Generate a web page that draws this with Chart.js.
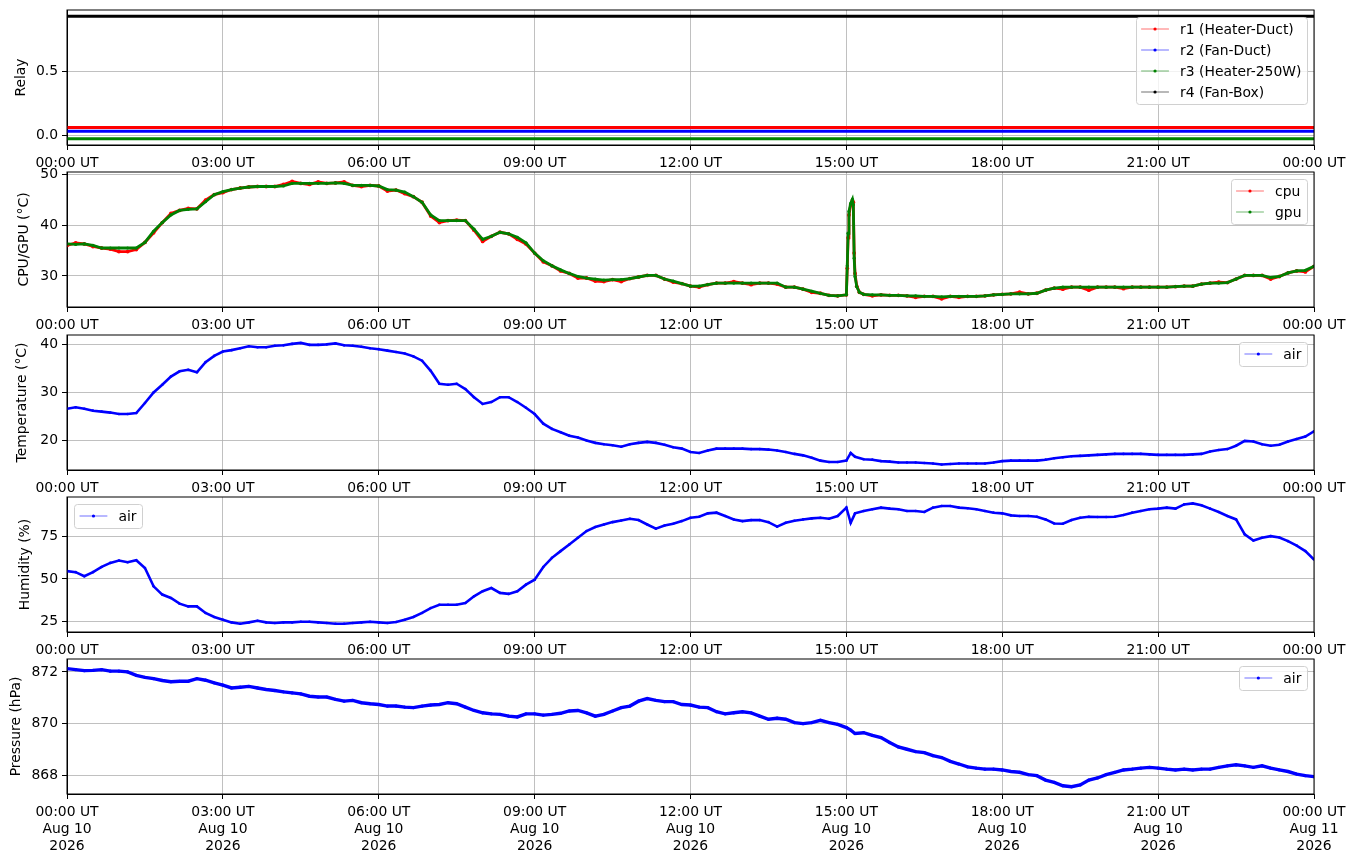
<!DOCTYPE html>
<html><head><meta charset="utf-8">
<script src="https://cdn.jsdelivr.net/npm/chart.js@4.4.1/dist/chart.umd.min.js"></script>
<style>
html,body{margin:0;padding:0;background:#fff;width:1355px;height:861px;overflow:hidden;position:relative}
.p{position:absolute;left:0;width:1355px}
</style></head><body>
<div class="p" id="d1"><canvas id="k1"></canvas></div>
<div class="p" id="d2"><canvas id="k2"></canvas></div>
<div class="p" id="d3"><canvas id="k3"></canvas></div>
<div class="p" id="d4"><canvas id="k4"></canvas></div>
<div class="p" id="d5"><canvas id="k5"></canvas></div>
<script>
// ---------- DATA ----------
const xTickMinutes = [0,180,360,540,720,900,1080,1260,1440];
const xTickLabels = ['00:00 UT','03:00 UT','06:00 UT','09:00 UT','12:00 UT','15:00 UT','18:00 UT','21:00 UT','00:00 UT'];
const xDateLabels = ['Aug 10','Aug 10','Aug 10','Aug 10','Aug 10','Aug 10','Aug 10','Aug 10','Aug 11'];
const xYearLabels = ['2026','2026','2026','2026','2026','2026','2026','2026','2026'];

const relayTimes = [0,60,120,180,240,300,360,420,480,540,600,660,720,780,840,900,960,1020,1080,1140,1200,1260,1320,1380,1440];
const relayR1 = [0.06,0.06,0.06,0.06,0.06,0.06,0.06,0.06,0.06,0.06,0.06,0.06,0.06,0.06,0.06,0.06,0.06,0.06,0.06,0.06,0.06,0.06,0.06,0.06,0.06];
const relayR2 = [0.03,0.03,0.03,0.03,0.03,0.03,0.03,0.03,0.03,0.03,0.03,0.03,0.03,0.03,0.03,0.03,0.03,0.03,0.03,0.03,0.03,0.03,0.03,0.03,0.03];
const relayR3 = [-0.03,-0.03,-0.03,-0.03,-0.03,-0.03,-0.03,-0.03,-0.03,-0.03,-0.03,-0.03,-0.03,-0.03,-0.03,-0.03,-0.03,-0.03,-0.03,-0.03,-0.03,-0.03,-0.03,-0.03,-0.03];
const relayR4 = [0.94,0.94,0.94,0.94,0.94,0.94,0.94,0.94,0.94,0.94,0.94,0.94,0.94,0.94,0.94,0.94,0.94,0.94,0.94,0.94,0.94,0.94,0.94,0.94,0.94];

const cpuTimes = [
0,10,20,30,40,50, 60,70,80,90,100,110, 120,130,140,150,160,170, 180,190,200,210,220,230,
240,250,260,270,280,290, 300,310,320,330,340,350, 360,370,380,390,400,410, 420,430,440,450,460,470,
480,490,500,510,520,530, 540,550,560,570,580,590, 600,610,620,630,640,650, 660,670,680,690,700,710,
720,730,740,750,760,770, 780,790,800,810,820,830, 840,850,860,870,880,890,
900,901,902,903,905,907,908,909,910,912,915,920,930,940,950,
960,970,980,990,1000,1010, 1020,1030,1040,1050,1060,1070, 1080,1090,1100,1110,1120,1130,
1140,1150,1160,1170,1180,1190, 1200,1210,1220,1230,1240,1250, 1260,1270,1280,1290,1300,1310,
1320,1330,1340,1350,1360,1370, 1380,1390,1400,1410,1420,1430, 1440];
const cpuTemp = [
36.0,36.5,36.3,35.8,35.5,35.3, 34.8,34.8,35.2,36.6,38.5,40.5, 42.3,42.9,43.3,43.2,44.9,46.0, 46.4,47.0,47.3,47.5,47.6,47.6,
47.6,48.0,48.6,48.2,48.0,48.5, 48.2,48.3,48.5,47.8,47.6,47.8, 47.7,46.7,46.9,46.2,45.6,44.5, 41.8,40.5,40.9,41.0,40.9,39.0,
36.8,37.8,38.6,38.3,37.2,36.3, 34.5,32.8,32.0,31.0,30.5,29.6, 29.6,29.0,28.9,29.3,28.9,29.5, 29.8,30.1,30.1,29.4,28.8,28.5,
28.0,27.8,28.3,28.6,28.6,28.9, 28.6,28.3,28.6,28.6,28.4,27.8, 27.8,27.4,26.8,26.6,26.2,26.1,
26.3,31.5,37.5,42.0,44.0,44.8,44.5,34.5,30.5,28.0,26.8,26.4,26.1,26.3,26.2,
26.2,26.1,25.8,26.0,26.0,25.5, 26.0,25.8,26.0,26.0,26.1,26.3, 26.4,26.5,26.8,26.5,26.6,27.2,
27.6,27.4,27.8,27.8,27.2,27.8, 27.8,27.8,27.5,27.8,27.8,27.8, 27.8,27.8,27.9,28.0,28.0,28.4,
28.6,28.8,28.7,29.4,30.1,30.1, 30.1,29.4,29.9,30.6,31.0,30.8, 31.9];
const gpuTemp = [
36.3,36.2,36.3,36.0,35.5,35.5, 35.5,35.5,35.5,36.6,38.8,40.5, 42.0,42.9,43.1,43.2,44.6,46.0, 46.6,47.0,47.3,47.5,47.6,47.6,
47.6,47.7,48.2,48.2,48.2,48.2, 48.2,48.3,48.2,47.8,47.8,47.8, 47.7,47.0,46.9,46.5,45.6,44.5, 42.0,40.9,40.9,40.9,40.9,39.2,
37.2,37.8,38.6,38.3,37.6,36.5, 34.5,33.0,32.0,31.2,30.5,29.9, 29.6,29.4,29.2,29.3,29.3,29.5, 29.8,30.1,30.1,29.4,29.0,28.5,
28.0,28.0,28.3,28.6,28.6,28.6, 28.6,28.6,28.6,28.6,28.6,27.8, 27.8,27.4,27.0,26.6,26.2,26.1,
26.3,32.0,38.4,42.7,44.3,45.1,44.0,33.5,29.9,27.9,26.8,26.4,26.3,26.3,26.2,
26.2,26.1,26.1,26.0,26.0,25.9, 26.0,26.0,26.0,26.0,26.1,26.3, 26.4,26.5,26.5,26.5,26.6,27.2,
27.6,27.8,27.8,27.8,27.8,27.8, 27.8,27.8,27.8,27.8,27.8,27.8, 27.8,27.8,27.9,28.0,28.0,28.4,
28.6,28.6,28.7,29.4,30.1,30.1, 30.1,29.7,29.9,30.6,31.0,31.1, 31.9];

const airTimes = [
0,10,20,30,40,50, 60,70,80,90,100,110, 120,130,140,150,160,170, 180,190,200,210,220,230,
240,250,260,270,280,290, 300,310,320,330,340,350, 360,370,380,390,400,410, 420,430,440,450,460,470,
480,490,500,510,520,530, 540,550,560,570,580,590, 600,610,620,630,640,650, 660,670,680,690,700,710,
720,730,740,750,760,770, 780,790,800,810,820,830, 840,850,860,870,880,890,
900,905,910,920,930,940,950,
960,970,980,990,1000,1010, 1020,1030,1040,1050,1060,1070, 1080,1090,1100,1110,1120,1130,
1140,1150,1160,1170,1180,1190, 1200,1210,1220,1230,1240,1250, 1260,1270,1280,1290,1300,1310,
1320,1330,1340,1350,1360,1370, 1380,1390,1400,1410,1420,1430, 1440];
const airTemp = [
26.6,26.9,26.6,26.2,26.0,25.8, 25.5,25.5,25.7,27.8,30.0,31.6, 33.3,34.4,34.7,34.2,36.3,37.6, 38.5,38.8,39.2,39.6,39.4,39.4,
39.7,39.8,40.1,40.3,39.9,39.9, 40.0,40.2,39.8,39.7,39.5,39.2, 39.0,38.7,38.4,38.1,37.5,36.6, 34.5,31.8,31.6,31.8,30.7,29.0,
27.6,28.0,29.0,29.0,28.0,26.8, 25.5,23.5,22.4,21.7,21.0,20.6, 20.0,19.5,19.2,19.0,18.7,19.2, 19.5,19.7,19.5,19.1,18.6,18.3,
17.6,17.4,17.9,18.3,18.3,18.3, 18.3,18.2,18.2,18.1,17.9,17.6, 17.2,16.9,16.4,15.8,15.5,15.5,
15.8,17.4,16.6,16.1,16.0,15.7,15.6,
15.4,15.4,15.4,15.3,15.2,15.0, 15.1,15.2,15.2,15.2,15.2,15.4, 15.7,15.8,15.8,15.8,15.8,16.0,
16.3,16.5,16.7,16.8,16.9,17.0, 17.1,17.2,17.2,17.2,17.2,17.1, 17.0,17.0,17.0,17.0,17.1,17.2,
17.7,18.0,18.2,18.9,19.9,19.8, 19.2,18.9,19.1,19.8,20.3,20.8, 21.9];
const airHumidity = [
54.6,54.0,51.6,54.0,57.1,59.5, 60.9,59.9,61.1,56.5,45.6,40.7, 38.7,35.3,33.7,33.7,29.8,27.4, 25.8,24.2,23.4,24.2,25.2,24.2,
23.8,24.2,24.2,24.6,24.6,24.2, 23.8,23.4,23.4,23.8,24.2,24.6, 24.2,23.8,24.4,25.8,27.4,29.8, 32.7,34.7,34.7,34.7,35.7,39.7,
42.7,44.6,41.7,41.1,42.7,46.6, 49.5,57.1,62.5,66.5,70.4,74.4, 78.4,80.8,82.3,83.7,84.7,85.7, 84.9,82.3,79.8,81.7,82.7,84.3,
86.3,86.9,88.9,89.3,87.3,85.3, 84.3,84.9,84.9,83.7,81.0,83.3, 84.5,85.3,85.9,86.3,85.7,87.3,
92.3,83.3,88.9,90.3,91.3,92.3,91.7,
91.3,90.3,90.3,89.7,92.3,93.3, 93.3,92.3,91.9,91.3,90.3,89.3, 88.9,87.7,87.3,87.3,86.9,85.3,
82.9,82.7,84.9,86.3,86.9,86.7, 86.7,86.9,87.9,89.3,90.3,91.3, 91.7,92.3,91.7,94.2,94.8,93.7,
91.7,89.7,87.3,85.3,76.4,72.8, 74.4,75.4,74.6,72.4,69.8,66.5, 61.5];
const airPressure = [
872.13,872.09,872.05,872.06,872.09,872.03, 872.03,872.00,871.87,871.79,871.74,871.67, 871.62,871.64,871.64,871.74,871.68,871.58,
871.49,871.38,871.41,871.44,871.38,871.32, 871.28,871.23,871.19,871.15,871.06,871.03, 871.03,870.94,870.87,870.90,870.81,870.77,
870.74,870.68,870.68,870.64,870.62,870.68, 870.72,870.74,870.81,870.77,870.64,870.51, 870.42,870.38,870.36,870.29,870.26,870.38,
870.38,870.33,870.36,870.40,870.49,870.51, 870.42,870.29,870.36,870.49,870.62,870.68, 870.87,870.97,870.90,870.85,870.85,870.74,
870.72,870.64,870.62,870.46,870.38,870.42, 870.46,870.42,870.29,870.17,870.21,870.17, 870.04,870.00,870.04,870.13,870.04,869.97,
869.85,869.75,869.62,869.65,869.55,869.46,869.27,
869.10,869.01,868.92,868.88,868.76,868.69, 868.54,868.44,868.33,868.28,868.24,868.24, 868.21,868.15,868.12,868.03,867.99,867.82,
867.73,867.60,867.56,867.63,867.82,867.90, 868.03,868.12,868.21,868.24,868.28,868.31, 868.28,868.24,868.21,868.24,868.21,868.24,
868.24,868.31,868.37,868.41,868.37,868.31, 868.37,868.28,868.21,868.15,868.05,867.99, 867.95];

// ---------- RENDERING ----------
const FS = 13.9;
Chart.defaults.font.family = '"DejaVu Sans", sans-serif';
Chart.defaults.font.size = FS;
Chart.defaults.color = '#000';

const framePlugin = {
  id: 'frame',
  afterDatasetsDraw(chart) {
    const {ctx, chartArea: a} = chart;
    ctx.save();
    ctx.strokeStyle = '#000'; ctx.lineWidth = 1;
    ctx.strokeRect(a.left, a.top, a.right - a.left, a.bottom - a.top);
    ctx.restore();
  }
};
const legendPlugin = {
  id: 'mplLegend',
  afterDraw(chart, args, opts) {
    const ctx = chart.ctx, a = chart.chartArea;
    const ds = chart.data.datasets;
    ctx.save();
    ctx.font = FS + 'px "DejaVu Sans"';
    let tw = 0;
    ds.forEach(d => { tw = Math.max(tw, ctx.measureText(d.label).width); });
    const pad = 0.4 * FS, hl = 2 * FS, htp = 0.8 * FS;
    const w = pad + hl + htp + tw + pad, h = 24 + (ds.length - 1) * 21;
    const x = opts.corner === 'ul' ? a.left + 7 : a.right - 7 - w;
    const y = a.top + 7;
    ctx.beginPath();
    ctx.roundRect(Math.round(x) + 0.5, Math.round(y) + 0.5, Math.round(w), Math.round(h), 3);
    ctx.fillStyle = 'rgba(255,255,255,0.8)'; ctx.fill();
    ctx.strokeStyle = '#d0d0d0'; ctx.lineWidth = 1; ctx.stroke();
    ds.forEach((d, i) => {
      const cy = y + 12 + i * 21, x0 = x + pad;
      ctx.strokeStyle = d.borderColor; ctx.globalAlpha = 0.8; ctx.lineWidth = 0.7;
      ctx.beginPath(); ctx.moveTo(x0, cy); ctx.lineTo(x0 + hl, cy); ctx.stroke();
      ctx.globalAlpha = 1;
      ctx.fillStyle = d.borderColor;
      ctx.beginPath(); ctx.arc(x0 + hl / 2, cy, 1.6, 0, Math.PI * 2); ctx.fill();
      ctx.fillStyle = '#000'; ctx.textBaseline = 'middle'; ctx.textAlign = 'left';
      ctx.fillText(d.label, x0 + hl + htp, cy + 1);
    });
    ctx.restore();
  }
};

function series(label, color, times, vals, lw, pr, order) {
  return {
    label, borderColor: color, backgroundColor: color, pointBackgroundColor: color,
    data: times.map((t, i) => ({x: t, y: vals[i]})),
    borderWidth: lw, pointRadius: pr, pointHoverRadius: 0, pointBorderWidth: 0,
    tension: 0, fill: false, order: order || 0
  };
}

const PAD_TOP = 14, PLOT_H = 135;
function makePanel(n, plotTop, xH, datasets, yMin, yMax, yTicks, yFmt, yTitle, titlePad, corner, multi) {
  const div = document.getElementById('d' + n);
  div.style.top = (plotTop - PAD_TOP) + 'px';
  div.style.height = (PAD_TOP + PLOT_H + xH) + 'px';
  new Chart(document.getElementById('k' + n), {
    type: 'line',
    data: {datasets},
    plugins: [framePlugin, legendPlugin],
    options: {
      responsive: true, maintainAspectRatio: false, animation: false, events: [],
      layout: {padding: {top: PAD_TOP, right: 41, left: 0, bottom: 0}},
      plugins: {legend: {display: false}, tooltip: {enabled: false}, mplLegend: {corner}},
      scales: {
        x: {
          type: 'linear', min: 0, max: 1440,
          afterBuildTicks: s => { s.ticks = xTickMinutes.map(v => ({value: v})); },
          afterFit: s => { s.height = xH; },
          ticks: {
            autoSkip: false, maxRotation: 0, padding: 5,
            font: {size: FS, lineHeight: 1.22},
            callback: v => {
              const i = xTickMinutes.indexOf(v);
              return multi ? [xTickLabels[i], xDateLabels[i], xYearLabels[i]] : xTickLabels[i];
            }
          },
          grid: {color: '#b0b0b0', lineWidth: 0.8, tickLength: 5, tickColor: '#000', tickWidth: 1},
          border: {color: '#000', width: 1}
        },
        y: {
          type: 'linear', min: yMin, max: yMax,
          afterBuildTicks: s => { s.ticks = yTicks.map(v => ({value: v})); },
          afterFit: s => { s.width = 67; },
          ticks: {padding: 4, callback: v => yFmt(v)},
          title: {display: true, text: yTitle, font: {size: FS, lineHeight: 1.2}, padding: {top: titlePad, bottom: 0}},
          grid: {color: '#b0b0b0', lineWidth: 0.8, tickLength: 5, tickColor: '#000', tickWidth: 1},
          border: {color: '#000', width: 1}
        }
      }
    }
  });
}

const f1 = v => v.toFixed(1), f0 = v => String(v);

makePanel(1, 10, 29, [
  series('r1 (Heater-Duct)', '#ff0000', relayTimes, relayR1, 3, 0),
  series('r2 (Fan-Duct)', '#0000ff', relayTimes, relayR2, 3, 0),
  series('r3 (Heater-250W)', '#008000', relayTimes, relayR3, 3, 0),
  series('r4 (Fan-Box)', '#000000', relayTimes, relayR4, 3, 0)
], -0.0785, 0.9885, [0, 0.5], f1, 'Relay', 13, 'ur', false);

makePanel(2, 172, 29, [
  series('cpu', '#ff0000', cpuTimes, cpuTemp, 2.8, 1.9, 1),
  series('gpu', '#008000', cpuTimes, gpuTemp, 2.8, 1.6, 0)
], 23.9, 50.45, [30, 40, 50], f0, 'CPU/GPU (°C)', 16, 'ur', false);

makePanel(3, 335, 29, [
  series('air', '#0000ff', airTimes, airTemp, 2.6, 1.3)
], 13.85, 41.95, [20, 30, 40], f0, 'Temperature (°C)', 14.4, 'ur', false);

makePanel(4, 497, 29, [
  series('air', '#0000ff', airTimes, airHumidity, 2.6, 1.3)
], 18.5, 98.6, [25, 50, 75], f0, 'Humidity (%)', 16.7, 'ul', false);

makePanel(5, 659, 68, [
  series('air', '#0000ff', airTimes, airPressure, 3.4, 1.6)
], 867.28, 872.5, [868, 870, 872], f0, 'Pressure (hPa)', 8.5, 'ur', true);
</script>
</body></html>
